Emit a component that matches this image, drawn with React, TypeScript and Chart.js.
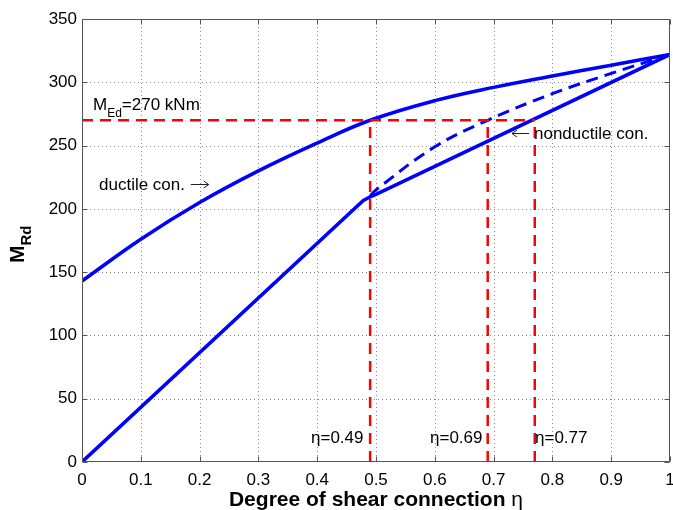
import React, { useEffect, useRef } from 'react';
import { Chart, registerables } from 'chart.js';

Chart.register(...registerables);

// ---- data ----
const xTickValues = [0, 0.1, 0.2, 0.3, 0.4, 0.5, 0.6, 0.7, 0.8, 0.9, 1];
const yTickValues = [0, 50, 100, 150, 200, 250, 300, 350];

const ductileEta = [0, 0.1, 0.2, 0.3, 0.4, 0.49, 0.6, 0.7, 0.8, 0.9, 1.0];
const ductileM = [143, 176, 205, 230, 252, 270, 285.5, 296, 305, 313.5, 322];

const nonductileEta = [0, 0.478, 0.49, 0.5, 1.0];
const nonductileM = [0, 206.5, 209.5, 211.5, 322];

const partialEta = [0.49, 0.5, 0.6, 0.69, 0.8, 0.9, 1.0];
const partialM = [210, 215, 249, 270, 291, 307, 322];

const MEd = 270;
const etaMarks = [0.49, 0.69, 0.77];
const etaLabels = ['η=0.49', 'η=0.69', 'η=0.77'];

const FONT = '"Liberation Sans", Arial, Helvetica, sans-serif';

const pts = (xs: number[], ys: number[]) => xs.map((x, i) => ({ x, y: ys[i] }));

function arrow(ctx: CanvasRenderingContext2D, x0: number, x1: number, y: number) {
  ctx.save();
  ctx.strokeStyle = '#222';
  ctx.lineWidth = 1;
  ctx.setLineDash([]);
  const dir = Math.sign(x1 - x0);
  ctx.beginPath();
  ctx.moveTo(x0, y + 0.5);
  ctx.lineTo(x1, y + 0.5);
  ctx.moveTo(x1 - dir * 5, y + 0.5 - 3.5);
  ctx.lineTo(x1, y + 0.5);
  ctx.lineTo(x1 - dir * 5, y + 0.5 + 3.5);
  ctx.stroke();
  ctx.restore();
}

const decorPlugin = {
  id: 'decor',
  beforeDatasetsDraw(chart: any) {
    const { ctx, chartArea: a, scales } = chart;
    const xs = scales.x, ys = scales.y;
    ctx.save();
    ctx.strokeStyle = '#8a8a8a';
    ctx.lineWidth = 1;
    ctx.setLineDash([1, 3]);
    xTickValues.forEach((v) => {
      if (v <= 0 || v >= 1) return;
      const px = Math.round(xs.getPixelForValue(v)) + 0.5;
      ctx.beginPath();
      ctx.moveTo(px, a.top);
      ctx.lineTo(px, a.bottom);
      ctx.stroke();
    });
    yTickValues.forEach((v) => {
      if (v <= 0 || v >= 350) return;
      const py = Math.round(ys.getPixelForValue(v)) + 0.5;
      ctx.beginPath();
      ctx.moveTo(a.left, py);
      ctx.lineTo(a.right, py);
      ctx.stroke();
    });
    ctx.restore();
  },
  afterDatasetsDraw(chart: any) {
    const { ctx, chartArea: a, scales } = chart;
    const xs = scales.x, ys = scales.y;
    ctx.save();
    ctx.setLineDash([]);
    ctx.strokeStyle = '#555';
    ctx.lineWidth = 1;
    const L = Math.round(a.left) + 0.5, R = Math.round(a.right) - 0.5;
    const T = Math.round(a.top) + 0.5, B = Math.round(a.bottom) - 0.5;
    ctx.strokeRect(L, T, R - L, B - T);
    const tl = 5;
    ctx.beginPath();
    xTickValues.forEach((v) => {
      const px = Math.round(xs.getPixelForValue(v)) + 0.5;
      ctx.moveTo(px, B); ctx.lineTo(px, B - tl);
      ctx.moveTo(px, T); ctx.lineTo(px, T + tl);
    });
    yTickValues.forEach((v) => {
      const py = Math.round(ys.getPixelForValue(v)) + 0.5;
      ctx.moveTo(L, py); ctx.lineTo(L + tl, py);
      ctx.moveTo(R, py); ctx.lineTo(R - tl, py);
    });
    ctx.stroke();
    ctx.restore();
  },
  afterDraw(chart: any) {
    const { ctx, chartArea: a } = chart;
    ctx.save();
    ctx.fillStyle = '#000';
    ctx.textBaseline = 'alphabetic';
    ctx.textAlign = 'left';

    // M_Ed = 270 kNm
    ctx.font = `17px ${FONT}`;
    let x = 93;
    ctx.fillText('M', x, 110);
    x += ctx.measureText('M').width;
    ctx.font = `12px ${FONT}`;
    ctx.fillText('Ed', x, 117);
    x += ctx.measureText('Ed').width;
    ctx.font = `17px ${FONT}`;
    ctx.fillText('=270 kNm', x, 110);

    ctx.fillText('ductile con.', 99, 190);
    const dw = ctx.measureText('ductile con. ').width;
    arrow(ctx, 99 + dw + 1, 99 + dw + 19, 184);

    arrow(ctx, 529, 512, 133);
    ctx.fillText('nonductile con.', 534, 139);

    // eta labels
    const etaX = [311, 430, 535];
    etaLabels.forEach((t, i) => ctx.fillText(t, etaX[i], 443));

    // x axis title
    const t1 = 'Degree of shear connection ';
    ctx.font = `bold 21px ${FONT}`;
    const w1 = ctx.measureText(t1).width;
    ctx.font = `21px ${FONT}`;
    const w2 = ctx.measureText('η').width;
    const cx = (a.left + a.right) / 2;
    const sx = cx - (w1 + w2) / 2;
    ctx.font = `bold 21px ${FONT}`;
    ctx.fillText(t1, sx, 506);
    ctx.font = `21px ${FONT}`;
    ctx.fillText('η', sx + w1, 506);

    // y axis title M_Rd rotated
    ctx.save();
    ctx.translate(24, 263);
    ctx.rotate(-Math.PI / 2);
    ctx.font = `bold 21px ${FONT}`;
    ctx.fillText('M', 0, 0);
    const mw = ctx.measureText('M').width;
    ctx.font = `bold 15px ${FONT}`;
    ctx.fillText('Rd', mw, 7);
    ctx.restore();

    ctx.restore();
  },
};

export default function App() {
  const ref = useRef<HTMLCanvasElement>(null);
  useEffect(() => {
    const red = '#ff0000';
    const blue = '#0000ff';
    const datasets: any[] = [
      {
        data: [{ x: 0, y: MEd }, { x: etaMarks[2], y: MEd }],
        borderColor: red, borderWidth: 2.5, borderDash: [11, 7], order: 0,
      },
      ...etaMarks.map((e) => ({
        data: [{ x: e, y: 0 }, { x: e, y: MEd }],
        borderColor: red, borderWidth: 2.5, borderDash: [11, 7], order: 0,
      })),
      {
        data: pts(ductileEta, ductileM),
        borderColor: blue, borderWidth: 3.5, tension: 0.4, order: 1,
      },
      {
        data: pts(nonductileEta, nonductileM),
        borderColor: blue, borderWidth: 3.5, tension: 0, order: 1,
      },
      {
        data: pts(partialEta, partialM),
        borderColor: blue, borderWidth: 3, borderDash: [12, 7], tension: 0.4, order: 1,
      },
    ].map((d) => ({ showLine: true, pointRadius: 0, fill: false, ...d }));

    const chart = new Chart(ref.current!, {
      type: 'scatter',
      data: { datasets },
      options: {
        animation: false,
        responsive: false,
        devicePixelRatio: 1,
        layout: { padding: { top: 19, right: 3, left: 0, bottom: 0 } },
        plugins: { legend: { display: false }, tooltip: { enabled: false } },
        scales: {
          x: {
            type: 'linear', min: 0, max: 1,
            grid: { display: false, drawTicks: false },
            border: { display: false },
            ticks: {
              stepSize: 0.1, autoSkip: false, maxRotation: 0, padding: 8,
              color: '#000', font: { family: FONT, size: 17 },
              callback: (v: any) => String(Number(Number(v).toFixed(1))),
            },
            afterFit: (s: any) => { s.height = 48; s.paddingLeft = 0; s.paddingRight = 0; },
          },
          y: {
            type: 'linear', min: 0, max: 350,
            grid: { display: false, drawTicks: false },
            border: { display: false },
            ticks: {
              stepSize: 50, autoSkip: false, padding: 5,
              color: '#000', font: { family: FONT, size: 17 },
            },
            afterFit: (s: any) => { s.width = 82; s.paddingTop = 0; s.paddingBottom = 0; },
          },
        },
      },
      plugins: [decorPlugin],
    } as any);
    return () => chart.destroy();
  }, []);
  return (
    <div style={{ position: 'absolute', left: 0, top: 0, width: 673, height: 510 }}>
      <canvas ref={ref} width={673} height={510} style={{ display: 'block' }} />
    </div>
  );
}
